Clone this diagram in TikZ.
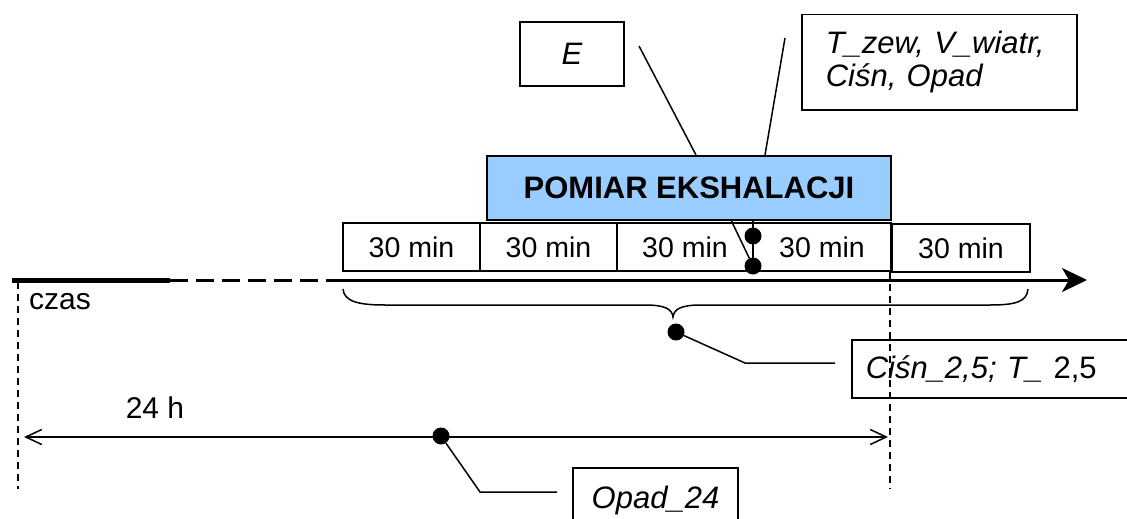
\documentclass[tikz,border=0pt]{standalone}
\usepackage{fontspec}
\setmainfont{Liberation Sans}
\usetikzlibrary{arrows.meta}
\begin{document}
\begin{tikzpicture}[x=1pt,y=-1pt,
  box/.style={draw, line width=1.5pt, inner sep=0pt},
  minbox/.style={box, minimum width=#1, minimum height=48pt, font=\fontsize{28.5}{32}\selectfont},
  ital/.style={font=\fontsize{31}{33}\selectfont\itshape},
  plain/.style={font=\fontsize{30}{32}\selectfont},
  dot/.style={circle, fill, inner sep=0pt, minimum size=17pt},
  conn/.style={line width=1.5pt},
  vdash/.style={line width=1.3pt, dash pattern=on 7pt off 5pt}]
\useasboundingbox (0,0) rectangle (1127,519);

% top label boxes
\node[box, ital, minimum width=104pt, minimum height=64pt] (E) at (572,54) {E};
\node[box, ital, anchor=north west, minimum width=275pt, minimum height=95pt,
      text width=227pt, inner xsep=24pt, align=left] (T) at (801,14)
      {T\_zew, V\_wiatr,\\Ciśn, Opad};

% measurement box
\node[box, fill={rgb,255:red,153;green,204;blue,255}, minimum width=404pt, minimum height=64pt,
      font=\fontsize{31}{33}\selectfont\bfseries] (pom) at (689,188) {POMIAR EKSHALACJI};

\coordinate (eA) at (639,46);
\coordinate (eB) at (696,155);
\coordinate (tA) at (785,38);
\coordinate (tB) at (765,155);
\draw[conn] (eA) -- (eB);
\draw[conn] (tA) -- (tB);

% 30 min boxes
\node[minbox=137pt] (m1) at (411.5,247) {30 min};
\node[minbox=137pt] (m2) at (548.5,247) {30 min};
\node[minbox=136pt] (m3) at (685,247) {30 min};
\node[minbox=138pt] (m4) at (822,247) {30 min};
\node[minbox=138pt] (m5) at (961,248) {30 min};

% dots under measurement box
\node[dot] (d1) at (753,236) {};
\node[dot] (d2) at (753,266) {};
\coordinate (pA) at (753,220);
\coordinate (pB) at (731,220);
\draw[conn] (pA) -- (d1) -- (d2);
\draw[conn] (pB) -- (d2);

% time axis
\coordinate (a0) at (12,280);
\coordinate (a1) at (170,280);
\coordinate (a2) at (343,280);
\coordinate (a3) at (330,280);
\coordinate (aEnd) at (1087,280);
\draw[line width=5pt] (a0) -- (a1);
\draw[line width=3pt, dash pattern=on 18pt off 8pt] (a1) -- (a2);
\draw[line width=3pt, -{Stealth[length=25pt,width=24pt,inset=7pt]}] (a3) -- (aEnd);
\node[plain, anchor=west, inner sep=0pt] (czas) at (29,302) {czas};

% dashed verticals
\coordinate (v0a) at (18,282);
\coordinate (v0b) at (18,489);
\coordinate (v1a) at (890,272);
\coordinate (v1b) at (890,489);
\draw[vdash] (v0a) -- (v0b);
\draw[vdash] (v1a) -- (v1b);

% brace
\draw[conn] (343,289) .. controls (344,302) and (360,305) .. (385,305) -- (645,305)
  .. controls (665,305) and (672,309) .. (673,317)
  .. controls (674,309) and (681,305) .. (701,305) -- (990,305)
  .. controls (1015,305) and (1027,302) .. (1028,289);

% pressure / temperature label
\node[dot] (dC) at (676,332) {};
\coordinate (cK) at (745,363);
\coordinate (cE) at (835,363);
\draw[conn] (dC) -- (cK) -- (cE);
\node[box, ital, anchor=north west, minimum width=275pt, minimum height=58pt,
      text width=250pt, inner xsep=14pt, align=left] (C) at (851,339)
      {Ciśn\_2,5; T\_ \upshape 2,5};

% 24 h span
\coordinate (h0) at (24,437);
\coordinate (h1) at (888,437);
\draw[conn, {Straight Barb[length=16pt,width=15pt]}-{Straight Barb[length=16pt,width=15pt]}] (h0) -- (h1);
\node[plain, inner sep=0pt] (h24) at (155,408) {24 h};

\node[dot] (dO) at (441,436) {};
\coordinate (oK) at (480,492);
\coordinate (oE) at (557,492);
\draw[conn] (dO) -- (oK) -- (oE);
\node[box, ital, minimum width=165pt, minimum height=64pt] (O) at (655.5,500) {Opad\_24};
\end{tikzpicture}
\end{document}
